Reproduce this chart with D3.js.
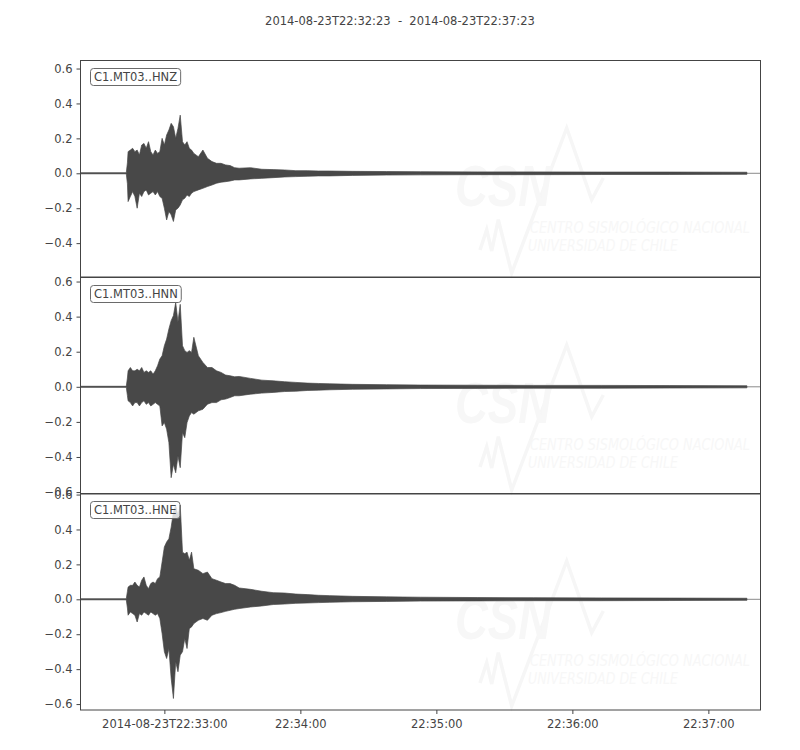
<!DOCTYPE html>
<html>
<head>
<meta charset="utf-8">
<script src="https://cdn.jsdelivr.net/npm/d3@7"></script>
<style>
  body { margin: 0; background: #fff; }
  svg { font-family: "DejaVu Sans", sans-serif; }
</style>
</head>
<body>
<svg id="seismo" width="800" height="750"></svg>
<script>
// Record window
let startTime = "2014-08-23T22:32:23";
let endTime = "2014-08-23T22:37:23";
let channels = ["C1.MT03..HNZ", "C1.MT03..HNN", "C1.MT03..HNE"];
let yLimits = [[-0.594, 0.646], [-0.611, 0.623], [-0.634, 0.606]];
let yTickValues = [-0.6, -0.4, -0.2, 0.0, 0.2, 0.4, 0.6];
let xTickTimes = ["2014-08-23T22:33:00", "2014-08-23T22:34:00", "2014-08-23T22:35:00", "2014-08-23T22:36:00", "2014-08-23T22:37:00"];
let xTickLabels = ["2014-08-23T22:33:00", "22:34:00", "22:35:00", "22:36:00", "22:37:00"];

// Envelope sample times (seconds after start) and per-channel max / min
let envTimes = [0, 20.2,
    20.7, 21, 22, 23, 24, 25, 26, 27, 28, 29, 30, 31, 32, 33, 34, 35, 36, 37, 38, 39, 40,
    41, 42, 43, 44, 45, 46, 47, 48, 49, 50,
    52, 54, 56, 58, 60, 62, 64, 66, 68, 70,
    75, 80, 85, 90, 95, 100, 105, 110,
    120, 135, 150, 175, 200, 230, 260, 294];

let hnzMax = [0.003, 0.003,
    0.06, 0.124, 0.133, 0.143, 0.124, 0.133, 0.105, 0.162, 0.171, 0.143, 0.181, 0.124, 0.105, 0.133, 0.114, 0.124, 0.2, 0.162, 0.219, 0.248, 0.286,
    0.267, 0.2, 0.257, 0.333, 0.181, 0.162, 0.181, 0.143, 0.133, 0.114,
    0.095, 0.133, 0.086, 0.067, 0.057, 0.057, 0.048, 0.044, 0.032, 0.029,
    0.032, 0.023, 0.021, 0.019, 0.015, 0.015, 0.013, 0.013,
    0.011, 0.01, 0.009, 0.008, 0.008, 0.007, 0.007, 0.006];
let hnzMin = [-0.003, -0.003,
    -0.06, -0.162, -0.133, -0.105, -0.133, -0.2, -0.114, -0.133, -0.105, -0.095, -0.124, -0.114, -0.105, -0.124, -0.105, -0.133, -0.143, -0.2, -0.267, -0.219, -0.238,
    -0.276, -0.21, -0.2, -0.181, -0.152, -0.143, -0.124, -0.133, -0.114, -0.105,
    -0.095, -0.086, -0.076, -0.067, -0.057, -0.051, -0.048, -0.044, -0.038, -0.038,
    -0.032, -0.029, -0.025, -0.021, -0.019, -0.017, -0.015, -0.015,
    -0.012, -0.01, -0.009, -0.008, -0.008, -0.007, -0.007, -0.006];

let hnnMax = [0.003, 0.003,
    0.05, 0.091, 0.11, 0.091, 0.091, 0.1, 0.091, 0.11, 0.082, 0.091, 0.082, 0.091, 0.072, 0.091, 0.12, 0.158, 0.177, 0.234, 0.272, 0.33, 0.377,
    0.406, 0.48, 0.37, 0.47, 0.234, 0.206, 0.196, 0.206, 0.196, 0.282,
    0.177, 0.139, 0.11, 0.11, 0.091, 0.082, 0.067, 0.063, 0.057, 0.059,
    0.048, 0.038, 0.034, 0.029, 0.025, 0.021, 0.019, 0.017,
    0.014, 0.012, 0.01, 0.009, 0.008, 0.008, 0.007, 0.006];
let hnnMin = [-0.003, -0.003,
    -0.05, -0.08, -0.09, -0.109, -0.09, -0.09, -0.109, -0.09, -0.08, -0.1, -0.09, -0.109, -0.1, -0.09, -0.1, -0.109, -0.223, -0.204, -0.242, -0.318, -0.518,
    -0.442, -0.49, -0.394, -0.461, -0.261, -0.29, -0.204, -0.166, -0.147, -0.156,
    -0.137, -0.128, -0.099, -0.09, -0.09, -0.074, -0.07, -0.061, -0.051, -0.051,
    -0.042, -0.036, -0.032, -0.027, -0.025, -0.021, -0.019, -0.017,
    -0.014, -0.012, -0.01, -0.009, -0.008, -0.008, -0.007, -0.006];

let hneMax = [0.003, 0.003,
    0.045, 0.07, 0.08, 0.08, 0.099, 0.08, 0.07, 0.109, 0.128, 0.08, 0.061, 0.09, 0.099, 0.09, 0.118, 0.128, 0.213, 0.3, 0.328, 0.347, 0.413,
    0.5, 0.537, 0.48, 0.54, 0.27, 0.261, 0.27, 0.223, 0.27, 0.175,
    0.166, 0.147, 0.156, 0.118, 0.109, 0.099, 0.09, 0.09, 0.08, 0.065,
    0.057, 0.046, 0.038, 0.036, 0.03, 0.027, 0.023, 0.021,
    0.017, 0.014, 0.012, 0.01, 0.009, 0.008, 0.007, 0.006];
let hneMin = [-0.003, -0.003,
    -0.05, -0.091, -0.072, -0.082, -0.091, -0.13, -0.082, -0.091, -0.072, -0.082, -0.091, -0.072, -0.082, -0.091, -0.082, -0.11, -0.196, -0.3, -0.339, -0.282, -0.453,
    -0.568, -0.358, -0.415, -0.32, -0.3, -0.225, -0.282, -0.168, -0.158, -0.139,
    -0.12, -0.11, -0.12, -0.091, -0.082, -0.076, -0.069, -0.063, -0.057, -0.053,
    -0.044, -0.038, -0.03, -0.027, -0.023, -0.021, -0.019, -0.017,
    -0.014, -0.012, -0.01, -0.009, -0.008, -0.008, -0.007, -0.006];

let traceMax = [hnzMax, hnnMax, hneMax];
let traceMin = [hnzMin, hnnMin, hneMin];

let svg = d3.select("#seismo");
let parseTime = d3.utcParse("%Y-%m-%dT%H:%M:%S");
let t0 = parseTime(startTime);

let left = 80.5, right = 760.5;
let panelTops = [60.5, 277.5, 493.5];
let panelHeight = 216.5;
let axisColor = "#444";
let traceColor = "#484848";

let x = d3.scaleUtc()
    .domain([t0, parseTime(endTime)])
    .range([left, right]);

// Title
svg.append("text")
    .attr("x", 400)
    .attr("y", 25)
    .attr("text-anchor", "middle")
    .attr("font-size", "11.5px")
    .attr("fill", axisColor)
    .attr("xml:space", "preserve")
    .text(startTime + "  -  " + endTime);

channels.forEach(function (name, i) {
    let top = panelTops[i];
    let y = d3.scaleLinear()
        .domain(yLimits[i])
        .range([top + panelHeight, top]);

    let g = svg.append("g");

    g.append("clipPath")
        .attr("id", "clip" + i)
        .append("rect")
        .attr("x", left).attr("y", top)
        .attr("width", right - left).attr("height", panelHeight);

    // faint CSN watermark (logo laid out for the middle panel, then shifted)
    let wm = g.append("g")
        .attr("transform", "translate(0," + (top - 277.5) + ")")
        .attr("fill", "#f7f7f7");
    wm.append("path")
        .attr("d", "M480,467 L486.7,446.7 L491.7,468 L498.3,436.7 L511.7,490 L566.7,345 L591.7,416.7 L603.3,395")
        .attr("fill", "none")
        .attr("stroke", "#f6f6f6")
        .attr("stroke-width", 3.5)
        .attr("stroke-linejoin", "miter");
    wm.append("text")
        .attr("x", 455).attr("y", 423)
        .attr("font-family", "Liberation Sans, sans-serif")
        .attr("font-weight", "bold")
        .attr("font-style", "italic")
        .attr("font-size", "57px")
        .attr("textLength", 96)
        .attr("lengthAdjust", "spacingAndGlyphs")
        .text("CSN");
    wm.append("text")
        .attr("x", 530).attr("y", 450)
        .attr("font-style", "italic")
        .attr("font-size", "16px")
        .attr("textLength", 220)
        .attr("lengthAdjust", "spacingAndGlyphs")
        .text("CENTRO SISMOLÓGICO NACIONAL");
    wm.append("text")
        .attr("x", 528).attr("y", 468)
        .attr("font-style", "italic")
        .attr("font-size", "16px")
        .attr("textLength", 150)
        .attr("lengthAdjust", "spacingAndGlyphs")
        .text("UNIVERSIDAD DE CHILE");

    // zero line
    g.append("line")
        .attr("x1", left).attr("x2", right)
        .attr("y1", y(0)).attr("y2", y(0))
        .attr("stroke", "#8a8a8a")
        .attr("stroke-width", 1);

    // waveform envelope
    let samples = envTimes.map(function (t, k) {
        return { time: new Date(t0.getTime() + t * 1000), hi: traceMax[i][k], lo: traceMin[i][k] };
    });
    let area = d3.area()
        .x(function (d) { return x(d.time); })
        .y0(function (d) { return y(d.lo); })
        .y1(function (d) { return y(d.hi); });

    g.append("path")
        .datum(samples)
        .attr("clip-path", "url(#clip" + i + ")")
        .attr("d", area)
        .attr("fill", traceColor)
        .attr("stroke", traceColor)
        .attr("stroke-width", 0.7)
        .attr("stroke-linejoin", "miter");

    // y axis
    let yAxis = g.append("g")
        .attr("transform", "translate(" + left + ",0)")
        .call(d3.axisLeft(y)
            .tickValues(yTickValues.filter(function (v) { return v >= yLimits[i][0] && v <= yLimits[i][1]; }))
            .tickFormat(d3.format(".1f"))
            .tickSize(4)
            .tickPadding(4));
    yAxis.select(".domain").remove();
    yAxis.selectAll("line").attr("stroke", axisColor);
    yAxis.selectAll("text")
        .attr("fill", axisColor)
        .attr("font-size", "11.5px")
        .attr("font-family", "DejaVu Sans, sans-serif");

    // frame
    g.append("rect")
        .attr("x", left).attr("y", top)
        .attr("width", right - left).attr("height", panelHeight)
        .attr("fill", "none")
        .attr("stroke", axisColor)
        .attr("stroke-width", 1);

    // channel label
    let label = g.append("g");
    let labelText = label.append("text")
        .attr("x", 94)
        .attr("y", top + 20.5)
        .attr("font-size", "11.5px")
        .attr("fill", axisColor)
        .text(name);
    let bb = labelText.node().getBBox();
    label.insert("rect", "text")
        .attr("x", bb.x - 3.5)
        .attr("y", bb.y - 1.5)
        .attr("width", bb.width + 7)
        .attr("height", bb.height + 3)
        .attr("rx", 3).attr("ry", 3)
        .attr("fill", "#fff")
        .attr("fill-opacity", 0.8)
        .attr("stroke", "#6a6a6a")
        .attr("stroke-width", 1);

    // x axis only under the last panel
    if (i === channels.length - 1) {
        let xAxis = g.append("g")
            .attr("transform", "translate(0," + (top + panelHeight) + ")")
            .call(d3.axisBottom(x)
                .tickValues(xTickTimes.map(parseTime))
                .tickFormat(function (d, k) { return xTickLabels[k]; })
                .tickSize(4)
                .tickPadding(6));
        xAxis.select(".domain").remove();
        xAxis.selectAll("line").attr("stroke", axisColor);
        xAxis.selectAll("text")
            .attr("fill", axisColor)
            .attr("font-size", "11.5px")
            .attr("font-family", "DejaVu Sans, sans-serif");
    }
});
</script>
</body>
</html>
